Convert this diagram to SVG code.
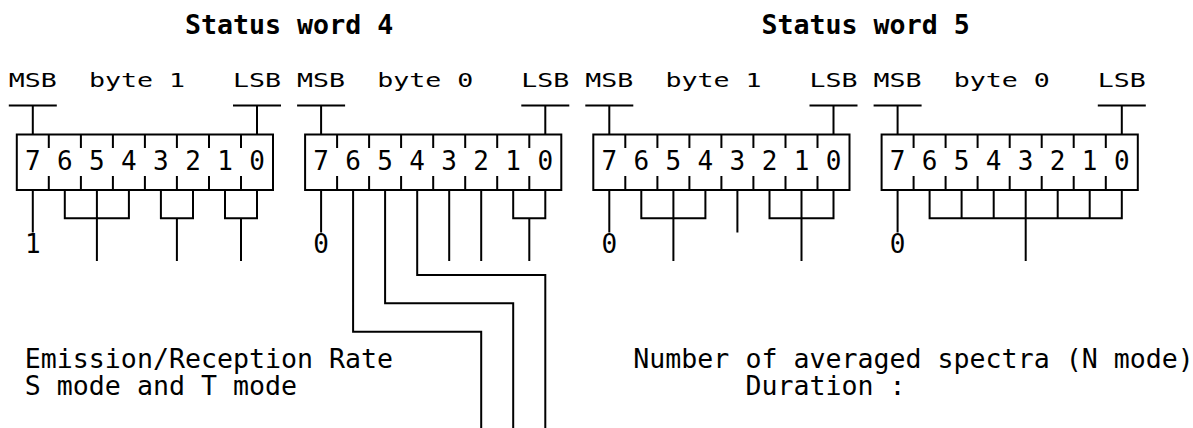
<svg xmlns="http://www.w3.org/2000/svg" width="1193" height="428" viewBox="0 0 1193 428">
<style>
.ln{fill:none;stroke:#000;stroke-width:2;stroke-linecap:butt;stroke-linejoin:miter}
.title{font-family:"DejaVu Sans Mono",monospace;font-weight:bold;font-size:26.6px;fill:#000}
.hdr{font-family:"DejaVu Sans Mono",monospace;font-size:19.5px;fill:#000}
.dig{font-family:"DejaVu Sans Mono",monospace;font-size:26px;fill:#000;text-anchor:middle}
.txt{font-family:"DejaVu Sans Mono",monospace;font-size:26.6px;fill:#000}
</style>
<rect width="1193" height="428" fill="#fff"/>
<g id="titles">
<text class="title" x="185" y="34" textLength="208.2" lengthAdjust="spacingAndGlyphs">Status word 4</text>
<text class="title" x="761.5" y="34" textLength="208.2" lengthAdjust="spacingAndGlyphs">Status word 5</text>
</g>
<g id="sw4-byte1">
<text class="hdr" x="8.8" y="87" textLength="48" lengthAdjust="spacingAndGlyphs">MSB</text>
<text class="hdr" x="88.9" y="87" textLength="96.1" lengthAdjust="spacingAndGlyphs">byte 1</text>
<text class="hdr" x="233" y="87" textLength="48" lengthAdjust="spacingAndGlyphs">LSB</text>
<path class="ln" d="M8.8 105.5H56.8M32.8 105.5V134.5M233 105.5H281M257 105.5V134.5"/>
<rect class="ln" x="16.8" y="134.5" width="256.2" height="55.5"/>
<path class="ln" d="M48.8 134.5V148M80.9 134.5V148M112.9 134.5V148M144.9 134.5V148M176.9 134.5V148M209 134.5V148M241 134.5V148M48.8 176V190M80.9 176V190M112.9 176V190M144.9 176V190M176.9 176V190M209 176V190M241 176V190"/>
<text class="dig" x="32.8" y="169.5">7</text><text class="dig" x="64.8" y="169.5">6</text><text class="dig" x="96.9" y="169.5">5</text><text class="dig" x="128.9" y="169.5">4</text><text class="dig" x="160.9" y="169.5">3</text><text class="dig" x="193" y="169.5">2</text><text class="dig" x="225" y="169.5">1</text><text class="dig" x="257" y="169.5">0</text>
<text class="dig" x="32.8" y="253">1</text>
</g>
<g id="sw4-byte0">
<text class="hdr" x="297.1" y="87" textLength="48" lengthAdjust="spacingAndGlyphs">MSB</text>
<text class="hdr" x="377.2" y="87" textLength="96.1" lengthAdjust="spacingAndGlyphs">byte 0</text>
<text class="hdr" x="521.3" y="87" textLength="48" lengthAdjust="spacingAndGlyphs">LSB</text>
<path class="ln" d="M297.1 105.5H345.1M321.1 105.5V134.5M521.3 105.5H569.3M545.3 105.5V134.5"/>
<rect class="ln" x="305.1" y="134.5" width="256.2" height="55.5"/>
<path class="ln" d="M337.1 134.5V148M369.1 134.5V148M401.1 134.5V148M433.2 134.5V148M465.2 134.5V148M497.2 134.5V148M529.3 134.5V148M337.1 176V190M369.1 176V190M401.1 176V190M433.2 176V190M465.2 176V190M497.2 176V190M529.3 176V190"/>
<text class="dig" x="321.1" y="169.5">7</text><text class="dig" x="353.1" y="169.5">6</text><text class="dig" x="385.1" y="169.5">5</text><text class="dig" x="417.2" y="169.5">4</text><text class="dig" x="449.2" y="169.5">3</text><text class="dig" x="481.2" y="169.5">2</text><text class="dig" x="513.2" y="169.5">1</text><text class="dig" x="545.3" y="169.5">0</text>
<text class="dig" x="321.1" y="253">0</text>
</g>
<g id="sw5-byte1">
<text class="hdr" x="585.3" y="87" textLength="48" lengthAdjust="spacingAndGlyphs">MSB</text>
<text class="hdr" x="665.4" y="87" textLength="96.1" lengthAdjust="spacingAndGlyphs">byte 1</text>
<text class="hdr" x="809.5" y="87" textLength="48" lengthAdjust="spacingAndGlyphs">LSB</text>
<path class="ln" d="M585.3 105.5H633.3M609.3 105.5V134.5M809.5 105.5H857.5M833.5 105.5V134.5"/>
<rect class="ln" x="593.3" y="134.5" width="256.2" height="55.5"/>
<path class="ln" d="M625.3 134.5V148M657.4 134.5V148M689.4 134.5V148M721.4 134.5V148M753.4 134.5V148M785.5 134.5V148M817.5 134.5V148M625.3 176V190M657.4 176V190M689.4 176V190M721.4 176V190M753.4 176V190M785.5 176V190M817.5 176V190"/>
<text class="dig" x="609.3" y="169.5">7</text><text class="dig" x="641.3" y="169.5">6</text><text class="dig" x="673.4" y="169.5">5</text><text class="dig" x="705.4" y="169.5">4</text><text class="dig" x="737.4" y="169.5">3</text><text class="dig" x="769.5" y="169.5">2</text><text class="dig" x="801.5" y="169.5">1</text><text class="dig" x="833.5" y="169.5">0</text>
<text class="dig" x="609.3" y="253">0</text>
</g>
<g id="sw5-byte0">
<text class="hdr" x="873.6" y="87" textLength="48" lengthAdjust="spacingAndGlyphs">MSB</text>
<text class="hdr" x="953.7" y="87" textLength="96.1" lengthAdjust="spacingAndGlyphs">byte 0</text>
<text class="hdr" x="1097.8" y="87" textLength="48" lengthAdjust="spacingAndGlyphs">LSB</text>
<path class="ln" d="M873.6 105.5H921.6M897.6 105.5V134.5M1097.8 105.5H1145.8M1121.8 105.5V134.5"/>
<rect class="ln" x="881.6" y="134.5" width="256.2" height="55.5"/>
<path class="ln" d="M913.6 134.5V148M945.6 134.5V148M977.6 134.5V148M1009.7 134.5V148M1041.7 134.5V148M1073.7 134.5V148M1105.8 134.5V148M913.6 176V190M945.6 176V190M977.6 176V190M1009.7 176V190M1041.7 176V190M1073.7 176V190M1105.8 176V190"/>
<text class="dig" x="897.6" y="169.5">7</text><text class="dig" x="929.6" y="169.5">6</text><text class="dig" x="961.6" y="169.5">5</text><text class="dig" x="993.7" y="169.5">4</text><text class="dig" x="1025.7" y="169.5">3</text><text class="dig" x="1057.7" y="169.5">2</text><text class="dig" x="1089.7" y="169.5">1</text><text class="dig" x="1121.8" y="169.5">0</text>
<text class="dig" x="897.6" y="253">0</text>
</g>
<g id="connectors">
<path class="ln" d="M32.8 190V232.5M64.8 190V218.3H128.9V190M96.9 190V261M160.9 190V218.3H193V190M176.9 218.3V261M225 190V218.3H257V190M241 218.3V261"/>
<path class="ln" d="M321.1 190V232.5M353.1 190V331.7H481.2V428M385.1 190V303.3H513.2V428M417.2 190V275H545.3V428M449.2 190V261M481.2 190V261M513.2 190V218.3H545.3V190M529.3 218.3V261"/>
<path class="ln" d="M609.3 190V232.5M641.3 190V218.3H705.4V190M673.4 190V261M737.4 190V232.5M769.5 190V218.3H833.5V190M801.5 190V261"/>
<path class="ln" d="M897.6 190V232.5M929.6 190V218.3H1121.8V190M961.6 190V218.3M993.7 190V218.3M1057.7 190V218.3M1089.7 190V218.3M1025.7 190V261"/>
</g>
<g id="labels">
<text class="txt" x="24.8" y="368" textLength="368.3" lengthAdjust="spacingAndGlyphs">Emission/Reception Rate</text>
<text class="txt" x="24.8" y="395" textLength="272.2" lengthAdjust="spacingAndGlyphs">S mode and T mode</text>
<text class="txt" x="633.3" y="368" textLength="560.5" lengthAdjust="spacingAndGlyphs">Number of averaged spectra (N mode)</text>
<text class="txt" x="745.4" y="395" textLength="160.1" lengthAdjust="spacingAndGlyphs">Duration :</text>
</g>
</svg>
